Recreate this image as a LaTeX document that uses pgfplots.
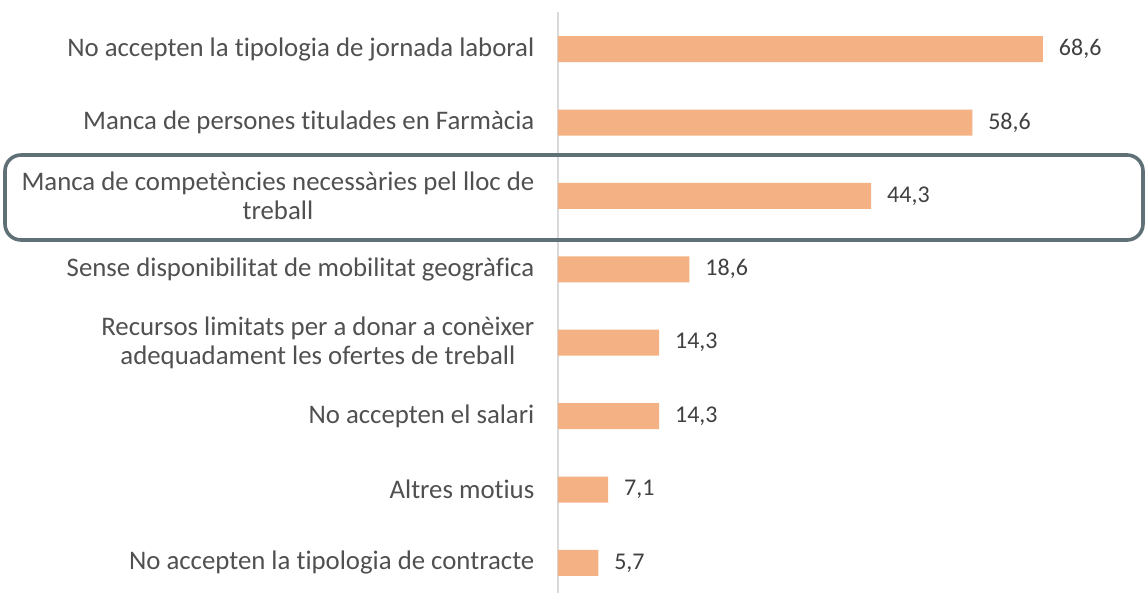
\documentclass[border=0pt]{standalone}
\usepackage{pgfplots}
\pgfplotsset{compat=1.18}
\usepackage{fontspec}
\setmainfont{Carlito}[Ligatures=NoCommon]
\definecolor{barc}{HTML}{F4B183}
\definecolor{labc}{HTML}{505050}
\definecolor{valc}{HTML}{404040}
\definecolor{boxc}{HTML}{5F7177}
\definecolor{axc}{HTML}{D9D9D9}
\begin{document}
\begin{tikzpicture}
\useasboundingbox (0,0) rectangle (573pt,296.5pt);
\begin{axis}[
  at={(279pt,0pt)}, anchor=south west,
  scale only axis, width=282.8pt, height=290.3pt,
  xbar, bar width=13pt,
  xmin=0, xmax=80,
  ymin=-0.5, ymax=7.409, y dir=reverse,
  axis x line=none,
  axis y line=left,
  y axis line style={draw=axc, line width=0.75pt, -},
  ytick={0,...,7},
  ytick style={draw=none},
  yticklabels={
    {No accepten la tipologia de jornada laboral},
    {Manca de persones titulades en Farmàcia},
    {Manca de competències necessàries pel lloc de\\treball},
    {Sense disponibilitat de mobilitat geogràfica},
    {Recursos limitats per a donar a conèixer\\adequadament les ofertes de treball},
    {No accepten el salari},
    {Altres motius},
    {No accepten la tipologia de contracte}},
  yticklabel style={align=center, font=\fontsize{13.4}{14.5}\selectfont, text=labc, inner sep=0pt, anchor=east, xshift=-9.5pt},
  nodes near coords,
  point meta=explicit symbolic,
  nodes near coords style={anchor=west, inner sep=0pt, xshift=7.8pt, font=\fontsize{12}{14}\selectfont, text=valc},
  clip=false,
]
\addplot[fill=barc, draw=none] coordinates {
  (68.6,0) [68,6]
  (58.6,1) [58,6]
  (44.3,2) [44,3]
  (18.6,3) [18,6]
  (14.3,4) [14,3]
  (14.3,5) [14,3]
  (7.1,6) [7,1]
  (5.7,7) [5,7]
};
\end{axis}
\draw[boxc, line width=1.8pt, rounded corners=8pt] (2.5pt,176.5pt) rectangle (571.5pt,219pt);
\end{tikzpicture}
\end{document}
